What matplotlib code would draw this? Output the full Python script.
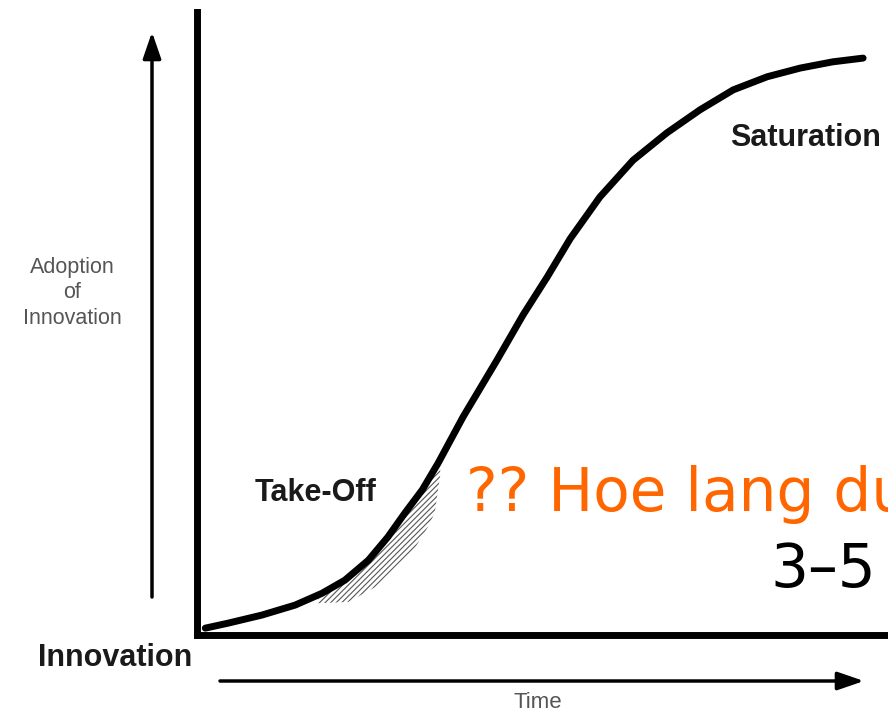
import matplotlib
matplotlib.use("Agg")
import matplotlib.pyplot as plt

plt.rcParams['font.family'] = ['Liberation Sans', 'DejaVu Sans']
plt.rcParams['hatch.linewidth'] = 0.8

# S-curve: time (0-100) vs adoption (0-100)
time = [1.2, 4.5, 9.4, 14.2, 18.1, 21.4, 24.8, 27.6, 30.1, 32.6, 34.9, 38.5,
        43.4, 47.2, 50.7, 54.0, 58.3, 63.1, 68.0, 72.8, 77.6, 82.5, 87.3, 92.0, 96.4]
adoption = [1.1, 1.9, 3.2, 4.8, 6.7, 8.8, 12.0, 15.7, 19.6, 23.3, 27.6, 35.0,
            44.1, 51.4, 57.5, 63.6, 70.3, 76.2, 80.6, 84.3, 87.5, 89.6, 91.0, 92.0, 92.6]

# hatched take-off zone under the curve
hatch_time = [17.5, 21.9, 25.8, 28.7, 31.6, 33.4, 34.4, 35.2]
hatch_top = [6.4, 9.3, 13.3, 17.3, 21.7, 24.9, 26.7, 27.8]
hatch_bottom = [5.1, 5.3, 7.7, 10.9, 14.1, 17.3, 19.6, 25.7]

W, H = 888, 715
fig = plt.figure(figsize=(W / 100, H / 100), dpi=100)

def fx(px):
    return px / W

def fy(py):
    return 1 - py / H

# main axes (thick L-shaped frame)
ax = fig.add_axes([fx(197), fy(635), fx(888) - fx(197), fy(12) - fy(635)])
ax.set_xlim(0, 100)
ax.set_ylim(0, 100)
ax.set_xticks([])
ax.set_yticks([])
for side in ['top', 'right']:
    ax.spines[side].set_visible(False)
for side in ['left', 'bottom']:
    ax.spines[side].set_linewidth(5)
    ax.spines[side].set_capstyle('projecting')

ax.plot(time, adoption, color='black', lw=5, solid_capstyle='round',
        solid_joinstyle='round', clip_on=False)
ax.fill_between(hatch_time, hatch_top, hatch_bottom, facecolor='none',
                edgecolor='#555555', hatch='//////', linewidth=0)

# outer arrows
arrow = dict(arrowstyle='-|>,head_length=1.6,head_width=0.55', lw=2.5,
             color='black', shrinkA=0, shrinkB=0, mutation_scale=10)
ax.annotate('', xy=(152, H - 32), xytext=(152, H - 597),
            xycoords='figure pixels', textcoords='figure pixels', arrowprops=arrow)
ax.annotate('', xy=(864, H - 681), xytext=(220, H - 681),
            xycoords='figure pixels', textcoords='figure pixels', arrowprops=arrow)

# labels
fig.text(fx(72), fy(293), "Adoption\nof\nInnovation", ha='center', va='center',
         fontsize=15.5, color='#555555', linespacing=1.3)
fig.text(fx(538), fy(703), "Time", ha='center', va='center', fontsize=16, color='#555555')
fig.text(fx(38), fy(658), "Innovation", ha='left', va='center', fontsize=22,
         fontweight='bold', color='#1a1a1a')
fig.text(fx(255), fy(493), "Take-Off", ha='left', va='center', fontsize=22,
         fontweight='bold', color='#1a1a1a')
fig.text(fx(730), fy(138), "Saturation", ha='left', va='center', fontsize=22,
         fontweight='bold', color='#1a1a1a')

fig.text(fx(466), fy(511), "?? Hoe lang du", ha='left', va='baseline', fontsize=43,
         color='#FF6600', family=['DejaVu Sans'])
fig.text(fx(770), fy(587), "3–5", ha='left', va='baseline', fontsize=43,
         color='black', family=['DejaVu Sans'])

fig.savefig('out.png', dpi=100)
